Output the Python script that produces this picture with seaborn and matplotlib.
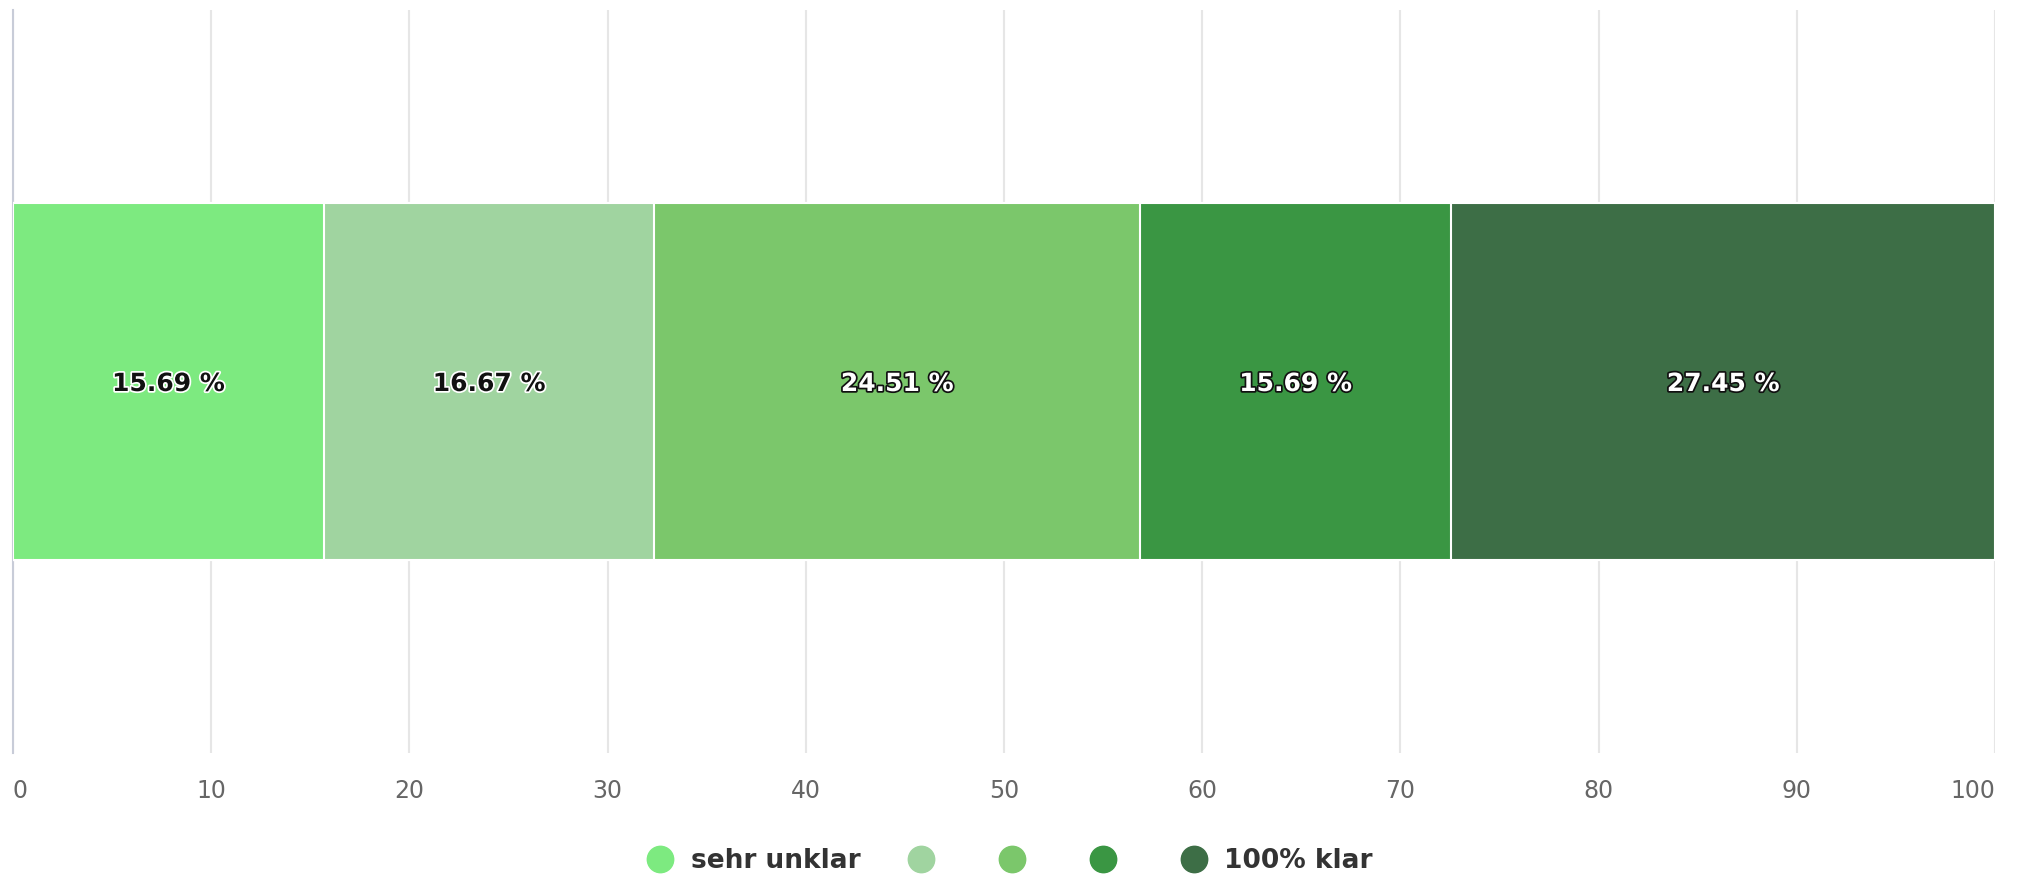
import matplotlib
matplotlib.use("Agg")
import matplotlib.pyplot as plt
import matplotlib.patheffects as pe
from matplotlib.lines import Line2D
import numpy as np
import pandas as pd
import seaborn as sns

# data
levels = ["sehr unklar", "2", "3", "4", "100% klar"]
legend_labels = ["sehr unklar", "", "", "", "100% klar"]
shares = [15.69, 16.67, 24.51, 15.69, 27.45]
colors = ["#7dea80", "#a0d4a0", "#7bc76b", "#3a9643", "#3d6e46"]
text_colors = ["#111111", "#111111", "#ffffff", "#ffffff", "#ffffff"]
ticks = [0, 10, 20, 30, 40, 50, 60, 70, 80, 90, 100]

sns.set_theme(style="white")
plt.rcParams["font.family"] = ["DejaVu Sans"]

cum = np.cumsum(shares)
df = pd.DataFrame({"row": ["q"] * len(levels), "level": levels, "cum": cum})

fig = plt.figure(figsize=(20.2, 8.76), dpi=100)
ax = fig.add_axes([0.0064, 0.1404, 0.9812, 0.8482])

# stacked look: draw cumulative bars, longest first, so shorter ones lie on top
sns.barplot(data=df, x="cum", y="row", hue="level",
            hue_order=levels[::-1], palette=dict(zip(levels, colors)),
            saturation=1, dodge=False, width=0.48, edgecolor="white",
            linewidth=1.5, legend=False, ax=ax, zorder=3)

ax.set_xlim(0, 100)
ax.set_ylim(0.5, -0.5)
ax.set_xticks(ticks)
ax.set_yticks([])
ax.set_xlabel("")
ax.set_ylabel("")
ax.grid(axis="x", color="#e6e6e6", linewidth=1.5, zorder=0)
ax.set_axisbelow(True)
for s in ["top", "right", "bottom"]:
    ax.spines[s].set_visible(False)
ax.spines["left"].set_color("#c8ccd8")
ax.spines["left"].set_linewidth(1.5)
ax.tick_params(axis="x", length=0, pad=19, labelsize=17, labelcolor="#666666")
tl = ax.get_xticklabels()
tl[0].set_ha("left")
tl[-1].set_ha("right")

# segment labels
starts = cum - np.array(shares)
for i, v in enumerate(shares):
    halo = "white" if text_colors[i] != "#ffffff" else "#111111"
    ax.text(starts[i] + v / 2, 0.0, f"{v:.2f} %", ha="center",
            va="center_baseline", fontsize=18, fontweight="bold",
            color=text_colors[i], zorder=5,
            path_effects=[pe.withStroke(linewidth=2.5, foreground=halo)])

handles = [Line2D([0], [0], marker="o", linestyle="none", markersize=19,
                  markerfacecolor=c, markeredgecolor=c) for c in colors]
leg = fig.legend(handles, legend_labels, loc="center", ncol=5,
                 bbox_to_anchor=(0.5, 1 - 861 / 876), frameon=False,
                 prop={"size": 19, "weight": "bold"}, handlelength=1.0,
                 handletextpad=0.65, columnspacing=1.8)
for t in leg.get_texts():
    t.set_color("#333333")

fig.savefig("out.png", dpi=100)
